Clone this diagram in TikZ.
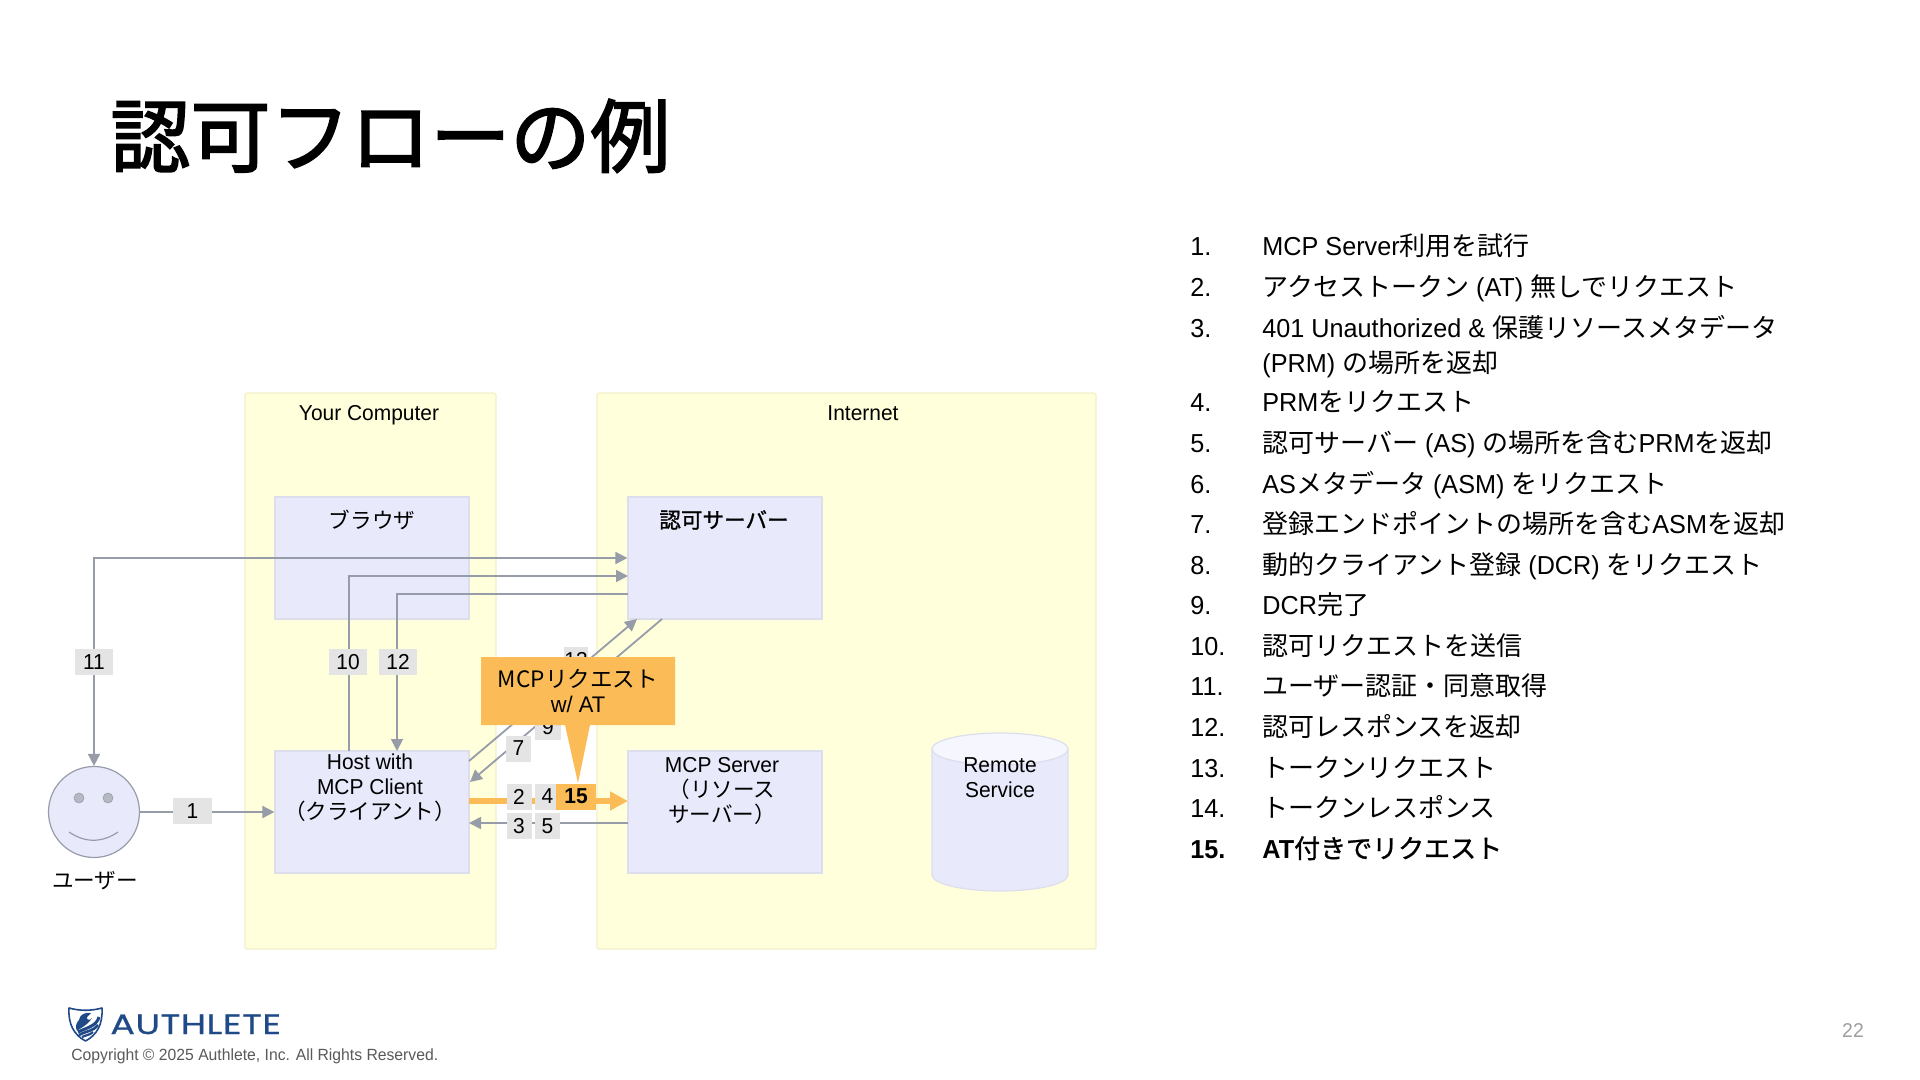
\documentclass[tikz,border=0pt]{standalone}
\usepackage{fontspec}
\usetikzlibrary{arrows.meta}
\setmainfont[FakeStretch=0.97]{Liberation Sans}
\newfontfamily\jafont{Noto Sans CJK JP}
\newfontfamily\jamedium[FakeBold=1.2]{Noto Sans CJK JP}
\newfontfamily\jatitle[FakeBold=2.2]{Noto Sans CJK JP}
\newfontfamily\logofont[FakeStretch=1.3,FakeBold=0.8,LetterSpace=2]{Poppins}
\newcommand{\ja}[1]{{\jafont #1}}
\newcommand{\jam}[1]{{\jamedium\mdseries #1}}
\definecolor{panelfill}{HTML}{FFFFDB}
\definecolor{paneledge}{HTML}{F2EFC8}
\definecolor{boxfill}{HTML}{E8EAFC}
\definecolor{boxedge}{HTML}{DCDEEC}
\definecolor{linegray}{HTML}{969CA8}
\definecolor{tagfill}{HTML}{E4E4E4}
\definecolor{accent}{HTML}{FBBC58}
\definecolor{logoblue}{HTML}{1F4A87}
\begin{document}
\begin{tikzpicture}[x=0.5pt,y=-0.5pt,
    panel/.style ={rectangle, draw=paneledge, fill=panelfill, line width=0.6pt, rounded corners=1pt, minimum width=#1, minimum height=278pt, inner sep=0pt},
    actor/.style ={rectangle, draw=boxedge, fill=boxfill, line width=0.6pt, minimum width=97pt, minimum height=61pt, inner sep=0pt},
    caption/.style ={font=\fontsize{10.8}{12.6}\selectfont, align=center, inner sep=0pt},
    tag/.style ={rectangle, fill=tagfill, minimum width=#1, minimum height=13pt, inner sep=0pt, font=\fontsize{10.8}{12}\selectfont},
    link/.style ={draw=linegray, line width=0.9pt, -{Triangle[length=6pt,width=6pt]}},
    listnum/.style ={anchor=base west, inner sep=0pt, font=\fontsize{13}{16}\selectfont},
    listtext/.style ={anchor=base west, inner sep=0pt, font=\fontsize{13}{16}\selectfont}]
   \useasboundingbox (0,0) rectangle (1920,1080);

   \node[anchor=base west,inner sep=0pt,font=\fontsize{40}{44}\selectfont\jatitle] (title) at (110,166) {認可フローの例};

   % panels and boxes
   \node[panel=125.5pt] (computer) at (370.5,671) {};
   \node[panel=249.5pt] (internet) at (846.5,671) {};
   \node[actor] (browser) at (372,558) {};
   \node[actor] (auth) at (725,558) {};
   \node[actor] (client) at (372,812) {};
   \node[actor] (server) at (725,812) {};
   \node[circle, draw=linegray, fill=boxfill, line width=0.6pt, minimum size=45.5pt, inner sep=0pt] (user) at (94,812) {};

   % remote service
   \draw[boxedge, fill=boxfill, line width=0.6pt] (932,749) -- (932,875) arc[start angle=180, end angle=0, x radius=68, y radius=16] -- (1068,749) -- cycle;
   \draw[boxedge, fill=boxfill!45, line width=0.6pt] (1000,749) ellipse [x radius=68, y radius=16];

   % face
   \node[circle, fill=linegray!70, draw=linegray, line width=0.3pt, minimum size=5pt, inner sep=0pt] (eyeL) at (79,798) {};
   \node[circle, fill=linegray!70, draw=linegray, line width=0.3pt, minimum size=5pt, inner sep=0pt] (eyeR) at (108,798) {};
   \draw[linegray, line width=0.6pt] (69,832) .. controls (85,843) and (102,843) .. (118,832);

   % texts
   \node[caption] (computerText) at (369,415) {Your Computer};
   \node[caption] (internetText) at (863,413) {Internet};
   \node[caption] (browserText) at (372,520) {\ja{ブラウザ}};
   \node[caption] (authText) at (724,520) {\jam{認可サーバー}};
   \node[caption] (clientText) at (370,788) {Host with\\MCP Client\\\ja{（クライアント）}};
   \node[caption] (serverText) at (722,791) {MCP Server\\\ja{（リソース}\\\ja{サーバー）}};
   \node[caption] (remoteText) at (1000,778) {Remote\\Service};
   \node[caption] (userText) at (95,881) {\ja{ユーザー}};

   % connectors
   \coordinate (in10) at (628,576);
   \coordinate (out10) at (349,751);
   \coordinate (out12) at (628,594);
   \coordinate (in12) at (397,751);
   \coordinate (out6) at (469,761);
   \coordinate (in6) at (637,619);
   \coordinate (out7) at (662,619);
   \coordinate (in7) at (470,782);
   \coordinate (out2) at (469,801);
   \coordinate (in2) at (628,801);
   \coordinate (out3) at (628,823);
   \coordinate (in3) at (469,823);

   \draw[link,{Triangle[length=6pt,width=6pt]}-{Triangle[length=6pt,width=6pt]}] (user.north) |- (auth.west);
   \draw[link] (out10) |- (in10);
   \draw[link] (out12) -| (in12);
   \draw[link] (user) -- (client);
   \draw[link] (out6) -- (in6);
   \draw[link] (out7) -- (in7);
   \draw[link] (out3) -- (in3);
   \draw[draw=accent, line width=3pt, -{Triangle[length=9pt,width=9pt]}] (out2) -- (in2);

   % labels on the connectors
   \node[tag=19.5pt] (tag1) at (192.5,811) {1};
   \node[tag=12.5pt] (tag2) at (519,796.5) {2};
   \node[tag=12.5pt] (tag3) at (519,826) {3};
   \node[tag=12.5pt] (tag4) at (547.5,796.5) {4};
   \node[tag=12.5pt] (tag5) at (547.5,826) {5};
   \node[tag=12.5pt] (tag7) at (518.5,748.5) {7};
   \node[tag=13pt] (tag9) at (548,727) {9};
   \node[tag=19pt] (tag10) at (348,662) {10};
   \node[tag=19pt] (tag11) at (94,662) {11};
   \node[tag=19pt] (tag12) at (398,662) {12};
   \node[tag=12pt] (tag13) at (576,660) {13};
   \node[tag=20pt, fill=accent, font=\fontsize{10.8}{12}\selectfont\bfseries] (tag15) at (576,796.5) {15};

   % callout
   \fill[accent] (481,657) -- (675,657) -- (675,725) -- (590,725) -- (578,783) -- (565,725) -- (481,725) -- cycle;
   \node[caption, font=\fontsize{11.3}{12.8}\selectfont] (calloutText) at (578,691) {\ja{MCPリクエスト}\\w/ AT};

   % list
   \node[listnum] (num1) at (1190,256) {1.};
   \node[listtext] (item1) at (1262,256) {MCP Server\ja{利用を試行}};
   \node[listnum] (num2) at (1190,297) {2.};
   \node[listtext] (item2) at (1262,297) {\ja{アクセストークン} (AT) \ja{無しでリクエスト}};
   \node[listnum] (num3) at (1190,337) {3.};
   \node[listtext] (item3) at (1262,337) {401 Unauthorized \& \ja{保護リソースメタデータ}};
   \node[listtext] (item3b) at (1262,372) {(PRM) \ja{の場所を返却}};
   \node[listnum] (num4) at (1190,411) {4.};
   \node[listtext] (item4) at (1262,411) {PRM\ja{をリクエスト}};
   \node[listnum] (num5) at (1190,452) {5.};
   \node[listtext] (item5) at (1262,452) {\ja{認可サーバー} (AS) \ja{の場所を含む}PRM\ja{を返却}};
   \node[listnum] (num6) at (1190,493) {6.};
   \node[listtext] (item6) at (1262,493) {AS\ja{メタデータ} (ASM) \ja{をリクエスト}};
   \node[listnum] (num7) at (1190,533) {7.};
   \node[listtext] (item7) at (1262,533) {\ja{登録エンドポイントの場所を含む}ASM\ja{を返却}};
   \node[listnum] (num8) at (1190,574) {8.};
   \node[listtext] (item8) at (1262,574) {\ja{動的クライアント登録} (DCR) \ja{をリクエスト}};
   \node[listnum] (num9) at (1190,614) {9.};
   \node[listtext] (item9) at (1262,614) {DCR\ja{完了}};
   \node[listnum] (num10) at (1190,655) {10.};
   \node[listtext] (item10) at (1262,655) {\ja{認可リクエストを送信}};
   \node[listnum] (num11) at (1190,695) {11.};
   \node[listtext] (item11) at (1262,695) {\ja{ユーザー認証・同意取得}};
   \node[listnum] (num12) at (1190,736) {12.};
   \node[listtext] (item12) at (1262,736) {\ja{認可レスポンスを返却}};
   \node[listnum] (num13) at (1190,777) {13.};
   \node[listtext] (item13) at (1262,777) {\ja{トークンリクエスト}};
   \node[listnum] (num14) at (1190,817) {14.};
   \node[listtext] (item14) at (1262,817) {\ja{トークンレスポンス}};
   \node[listnum, font=\fontsize{13}{16}\selectfont\bfseries] (num15) at (1190,858) {15.};
   \node[listtext, font=\fontsize{13}{16}\selectfont\bfseries] (item15) at (1262,858) {AT\jam{付きでリクエスト}};

   % footer
   \draw[logoblue, line width=0.8pt, line join=round] (69,1008) .. controls (80,1011) and (91,1011) .. (102,1008) .. controls (103,1024) and (97,1035) .. (85.5,1041) .. controls (74,1035) and (68,1024) .. (69,1008) -- cycle;
   \fill[logoblue] (79,1020) .. controls (80,1015) and (84,1012) .. (91,1013) -- (87,1017) .. controls (86,1020) and (90,1021) .. (92,1018) .. controls (87,1026) and (80,1028) .. (77,1031) .. controls (75,1027) and (76,1023) .. (79,1020) -- cycle;
   \draw[logoblue, line width=1.5pt] (99,1017) .. controls (97,1026) and (86,1028) .. (78,1032);
   \draw[logoblue, line width=1.3pt] (98,1025) .. controls (94,1031) and (86,1031) .. (79,1035);
   \draw[logoblue, line width=1.1pt] (93,1032) .. controls (90,1035) and (86,1035) .. (82,1037);
   \node[anchor=base west, inner sep=0pt, text=logoblue, font=\fontsize{14}{16}\logofont\selectfont] (logoText) at (110,1034) {AUTHLETE};
   \node[anchor=base west, inner sep=0pt, text=black!65, font=\fontsize{8.1}{10}\selectfont] (copyright) at (71,1060) {Copyright © 2025 Authlete, Inc. All Rights Reserved.};
   \node[inner sep=0pt, text=black!38, font=\fontsize{10}{12}\selectfont] (pageNum) at (1853,1031) {22};
 \end{tikzpicture}
\end{document}
